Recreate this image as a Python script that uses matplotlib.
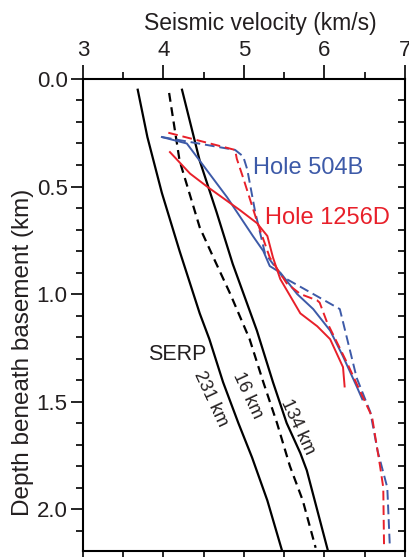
import matplotlib
matplotlib.use("Agg")
import matplotlib.pyplot as plt
from matplotlib.ticker import MultipleLocator

plt.rcParams["font.family"] = ["Liberation Sans", "DejaVu Sans"]

# SERP model curves (velocity km/s, depth km)
serp231_v = [3.68, 3.80, 3.98, 4.20, 4.45, 4.57, 4.74, 4.93, 5.10, 5.29, 5.47]
serp231_d = [0.05, 0.27, 0.53, 0.80, 1.09, 1.21, 1.41, 1.60, 1.76, 1.96, 2.19]

serp16_v = [4.07, 4.20, 4.45, 4.62, 4.83, 5.07, 5.24, 5.41, 5.57, 5.73, 5.89]
serp16_d = [0.065, 0.38, 0.69, 0.83, 1.00, 1.21, 1.41, 1.60, 1.80, 1.96, 2.18]

serp134_v = [4.23, 4.45, 4.66, 4.86, 5.16, 5.36, 5.53, 5.70, 5.78, 6.04]
serp134_d = [0.05, 0.38, 0.62, 0.86, 1.17, 1.41, 1.60, 1.74, 1.82, 2.19]

# Hole 504B
h504_v = [3.98, 4.29, 4.45, 4.79, 5.11, 5.24, 5.32, 5.45, 5.66, 5.86, 6.07, 6.23, 6.40, 6.47]
h504_d = [0.27, 0.30, 0.38, 0.55, 0.73, 0.80, 0.87, 0.90, 1.00, 1.07, 1.17, 1.29, 1.43, 1.49]
h504_dash_v = [3.98, 4.89, 4.99, 5.04, 5.14, 5.26, 5.48, 5.86, 6.19, 6.23, 6.40, 6.57, 6.66, 6.78, 6.81]
h504_dash_d = [0.27, 0.33, 0.36, 0.42, 0.62, 0.81, 0.92, 1.00, 1.07, 1.13, 1.39, 1.55, 1.73, 1.90, 2.16]

# Hole 1256D
h1256_v = [4.08, 4.33, 4.54, 4.95, 5.16, 5.29, 5.36, 5.45, 5.70, 5.91, 6.07, 6.23, 6.25]
h1256_d = [0.34, 0.44, 0.50, 0.61, 0.67, 0.73, 0.83, 0.93, 1.09, 1.15, 1.21, 1.34, 1.43]
h1256_dash_v = [4.06, 4.89, 4.91, 4.99, 5.16, 5.32, 5.53, 5.70, 5.91, 5.94, 6.03, 6.28, 6.44, 6.59, 6.69, 6.73, 6.74]
h1256_dash_d = [0.25, 0.33, 0.37, 0.46, 0.66, 0.83, 0.95, 1.00, 1.03, 1.04, 1.13, 1.32, 1.45, 1.57, 1.80, 1.90, 2.18]

BLUE = "#3d5aa8"
RED = "#e8202a"
TXT = "#231f20"

fig = plt.figure(figsize=(4.10, 5.57), dpi=100)
ax = fig.add_axes([0.2024, 0.0108, 0.7854, 0.8474])

ax.plot(serp231_v, serp231_d, color="black", lw=1.6)
ax.plot(serp16_v, serp16_d, color="black", lw=1.6, dashes=(4, 2.5))
ax.plot(serp134_v, serp134_d, color="black", lw=1.6)

ax.plot(h504_v, h504_d, color=BLUE, lw=1.4)
ax.plot(h504_dash_v, h504_dash_d, color=BLUE, lw=1.4, dashes=(5, 2.5))
ax.plot(h1256_v, h1256_d, color=RED, lw=1.4)
ax.plot(h1256_dash_v, h1256_dash_d, color=RED, lw=1.4, dashes=(5, 2.5))

ax.text(5.11, 0.415, "Hole 504B", color=BLUE, fontsize=17, va="center")
ax.text(5.26, 0.647, "Hole 1256D", color=RED, fontsize=17, va="center")
ax.text(3.81, 1.28, "SERP", color=TXT, fontsize=15.5, va="center")
ax.text(4.58, 1.49, "231 km", color=TXT, fontsize=13, rotation=-65,
        ha="center", va="center", rotation_mode="anchor")
ax.text(5.04, 1.47, "16 km", color=TXT, fontsize=13, rotation=-65,
        ha="center", va="center", rotation_mode="anchor")
ax.text(5.66, 1.62, "134 km", color=TXT, fontsize=13, rotation=-65,
        ha="center", va="center", rotation_mode="anchor")

ax.set_xlim(3, 7)
ax.set_ylim(2.195, 0)

ax.xaxis.set_label_position("top")
ax.set_xlabel("Seismic velocity (km/s)", fontsize=16.5, color=TXT, labelpad=7)
ax.xaxis.label.set_x(0.55)
ax.set_ylabel("Depth beneath basement (km)", fontsize=17.5, color=TXT, labelpad=2)
ax.yaxis.label.set_y(0.42)

ax.xaxis.set_major_locator(MultipleLocator(1))
ax.xaxis.set_minor_locator(MultipleLocator(0.5))
ax.yaxis.set_major_locator(MultipleLocator(0.5))
ax.yaxis.set_minor_locator(MultipleLocator(0.1))
ax.yaxis.set_major_formatter(plt.FormatStrFormatter("%.1f"))

ax.tick_params(axis="x", which="both", top=True, bottom=False,
               labeltop=True, labelbottom=False, direction="out",
               labelsize=16, labelcolor=TXT, pad=3)
ax.tick_params(axis="x", which="major", length=10, width=1.2)
ax.tick_params(axis="x", which="minor", length=5, width=1.2)
ax.tick_params(axis="y", which="both", left=True, right=False,
               direction="out", labelsize=16, labelcolor=TXT, pad=2)
ax.tick_params(axis="y", which="major", length=9, width=1.2)
ax.tick_params(axis="y", which="minor", length=5, width=1.2)

# bottom ticks every 0.5 km/s, right ticks every 0.1 km (inward)
sec_x = ax.secondary_xaxis("bottom")
sec_x.set_xticks([3 + 0.5 * i for i in range(9)])
sec_x.tick_params(direction="out", length=5, width=1.2, labelbottom=False)
sec_x.spines["bottom"].set_visible(False)
sec_y = ax.secondary_yaxis("right")
sec_y.set_yticks([0.1 * i for i in range(23)])
sec_y.tick_params(direction="in", length=5, width=1.2, labelright=False)
sec_y.spines["right"].set_visible(False)

for s in ax.spines.values():
    s.set_linewidth(1.5)

fig.savefig("out.png", dpi=100)
